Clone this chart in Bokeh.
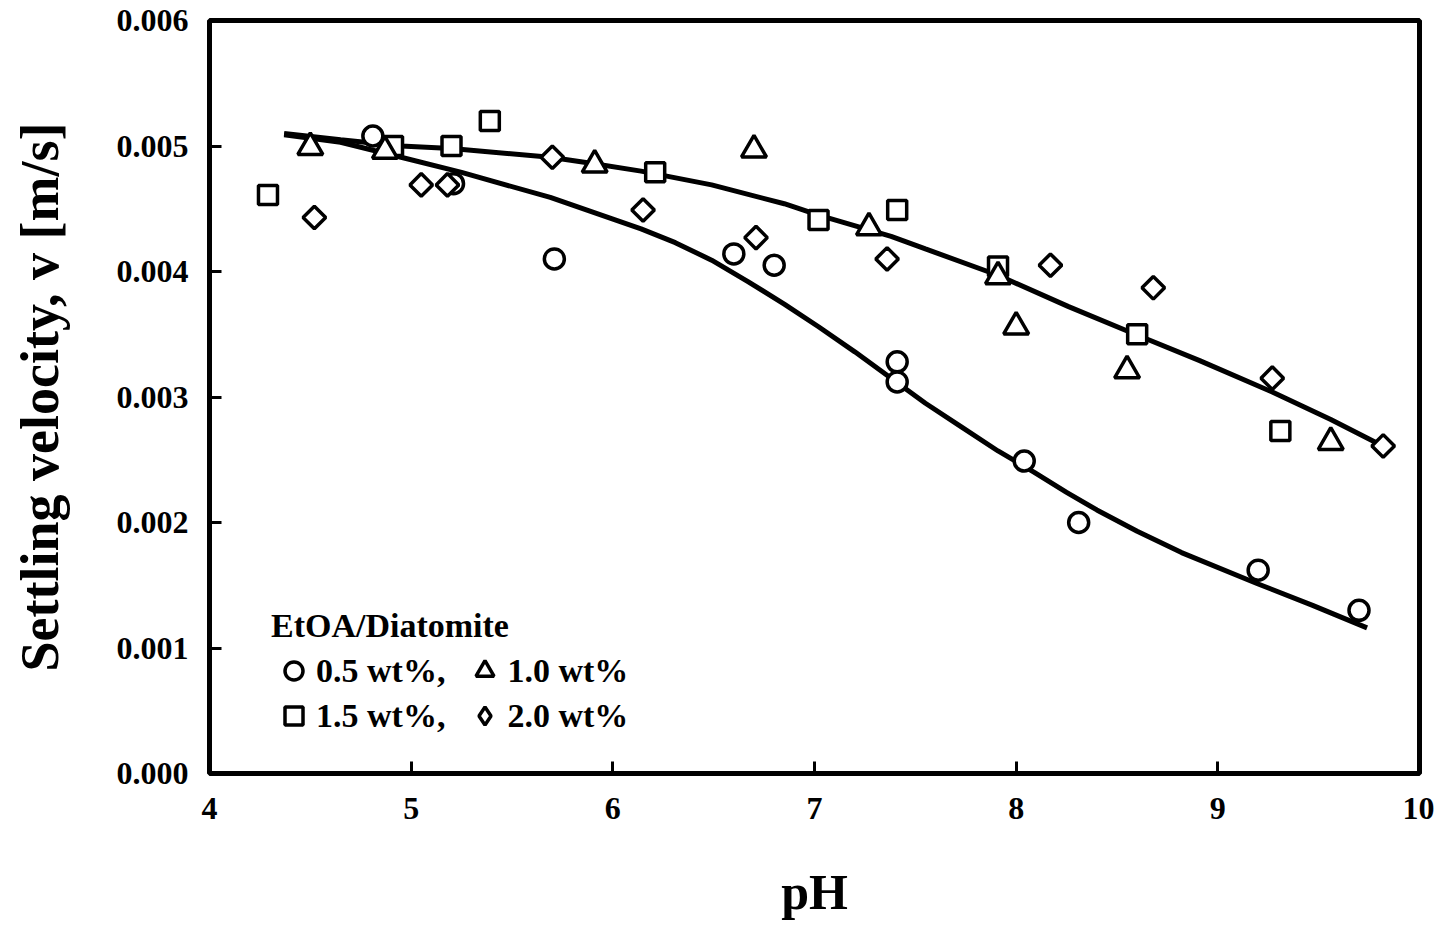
import math
from bokeh.plotting import figure
from bokeh.models import (Range1d, FixedTicker, PrintfTickFormatter, Legend,
                          LegendItem)
from bokeh.embed import file_html
from bokeh.resources import INLINE

# ---- data ----
ph_05 = [4.81, 5.21, 5.71, 6.60, 6.80, 7.41, 7.41, 8.04, 8.31, 9.20, 9.70]
v_05 = [0.00508, 0.00470, 0.00410, 0.00414, 0.00405, 0.00328, 0.00312,
        0.00249, 0.00200, 0.00162, 0.00130]

ph_10 = [4.50, 4.87, 5.91, 6.70, 7.27, 7.91, 8.00, 8.55, 9.56]
v_10 = [0.00499, 0.00496, 0.00485, 0.00497, 0.00435, 0.00396, 0.00356,
        0.00321, 0.00264]

ph_15 = [4.29, 4.91, 5.20, 5.39, 6.21, 7.02, 7.41, 7.91, 8.60, 9.31]
v_15 = [0.00461, 0.00500, 0.00500, 0.00520, 0.00479, 0.00441, 0.00449,
        0.00404, 0.00350, 0.00273]

ph_20 = [4.52, 5.05, 5.18, 5.70, 6.15, 6.71, 7.36, 8.17, 8.68, 9.27, 9.82]
v_20 = [0.00443, 0.00469, 0.00469, 0.00491, 0.00449, 0.00427, 0.00410,
        0.00405, 0.00387, 0.00315, 0.00261]

# fitted curves
fit_lo_ph = [4.37, 4.65, 4.95, 5.25, 5.69, 6.14, 6.31, 6.49, 6.67, 6.85,
             7.02, 7.20, 7.38, 7.55, 7.73, 7.91, 8.09, 8.25, 8.40, 8.60,
             8.82, 9.20, 9.47, 9.74]
fit_lo_v = [0.00509, 0.00503, 0.00491, 0.00479, 0.00459, 0.00434, 0.00423,
            0.00409, 0.00392, 0.00374, 0.00356, 0.00336, 0.00315, 0.00295,
            0.00276, 0.00257, 0.00240, 0.00224, 0.00210, 0.00193, 0.00176,
            0.00151, 0.00134, 0.00116]
fit_hi_ph = [4.37, 4.65, 4.95, 5.20, 5.69, 5.90, 6.14, 6.49, 6.85, 7.02,
             7.38, 7.55, 7.91, 8.26, 8.62, 8.91, 9.27, 9.56, 9.83]
fit_hi_v = [0.00510, 0.00505, 0.00500, 0.00498, 0.00491, 0.00486, 0.00480,
            0.00469, 0.00454, 0.00445, 0.00428, 0.00418, 0.00397, 0.00372,
            0.00348, 0.00329, 0.00304, 0.00282, 0.00260]

x_ticks = [4, 5, 6, 7, 8, 9, 10]
y_ticks = [0.0, 0.001, 0.002, 0.003, 0.004, 0.005, 0.006]

FONT = "Liberation Serif"

p = figure(frame_width=1210, frame_height=753,
           min_border_left=209, min_border_right=15,
           min_border_top=20, min_border_bottom=140,
           x_range=Range1d(4, 10), y_range=Range1d(0, 0.006),
           output_backend="svg", toolbar_location=None,
           background_fill_color="white", border_fill_color="white")

p.grid.visible = False
p.outline_line_color = "black"
p.outline_line_width = 5

for ax in (p.xaxis[0], p.yaxis[0]):
    ax.axis_line_color = None
    ax.major_tick_in = 12
    ax.major_tick_out = 0
    ax.major_tick_line_width = 3
    ax.major_tick_line_color = "black"
    ax.minor_tick_line_color = None
    ax.major_label_text_font = FONT
    ax.major_label_text_font_style = "bold"
    ax.major_label_text_font_size = "32px"
    ax.major_label_text_color = "black"
    ax.axis_label_text_font = FONT
    ax.axis_label_text_font_style = "bold"
    ax.axis_label_text_color = "black"

p.xaxis.ticker = FixedTicker(ticks=x_ticks)
p.xaxis.formatter = PrintfTickFormatter(format="%d")
p.xaxis.major_label_standoff = 24
p.xaxis.axis_label = "pH"
p.xaxis.axis_label_text_font_size = "50px"
p.xaxis.axis_label_standoff = 42

p.yaxis.ticker = FixedTicker(ticks=y_ticks)
p.yaxis.formatter = PrintfTickFormatter(format="%.3f")
p.yaxis.major_label_standoff = 21
p.yaxis.axis_label = "Settling velocity, v [m/s]"
p.yaxis.axis_label_text_font_size = "54px"
p.yaxis.axis_label_standoff = 44

# curves
p.line(fit_lo_ph, fit_lo_v, line_color="black", line_width=5)
p.line(fit_hi_ph, fit_hi_v, line_color="black", line_width=5)

mk = dict(fill_color="white", line_color="black", line_width=3.5)
r05 = p.scatter(ph_05, v_05, marker="circle", size=20, **mk)
r15 = p.scatter(ph_15, v_15, marker="square", size=19, **mk)
r10 = p.scatter(ph_10, v_10, marker="triangle", size=25, **mk)
p.scatter(ph_20, v_20, marker="square", size=16, angle=math.pi / 4, **mk)
# zero-size copy of the 2.0 wt% series, used only for its legend key
r20_key = p.scatter(ph_20, v_20, marker="diamond", size=0, **mk)

legend = Legend(
    items=[LegendItem(label="0.5 wt%,  ", renderers=[r05]),
           LegendItem(label="1.0 wt%", renderers=[r10]),
           LegendItem(label="1.5 wt%,  ", renderers=[r15]),
           LegendItem(label="2.0 wt%", renderers=[r20_key])],
    orientation="horizontal", nrows=2,
    location=(62, 35),
    title="EtOA/Diatomite",
    title_text_font=FONT, title_text_font_style="bold",
    title_text_font_size="34px", title_standoff=3, title_text_color="black",
    label_text_font=FONT, label_text_font_style="bold",
    label_text_font_size="34px", label_text_color="black",
    glyph_width=45, glyph_height=45, label_height=45,
    label_standoff=0, spacing=0, padding=0, margin=0,
    border_line_color=None, background_fill_alpha=0,
)
p.add_layout(legend)

open("out.html", "w").write(file_html(p, INLINE))
